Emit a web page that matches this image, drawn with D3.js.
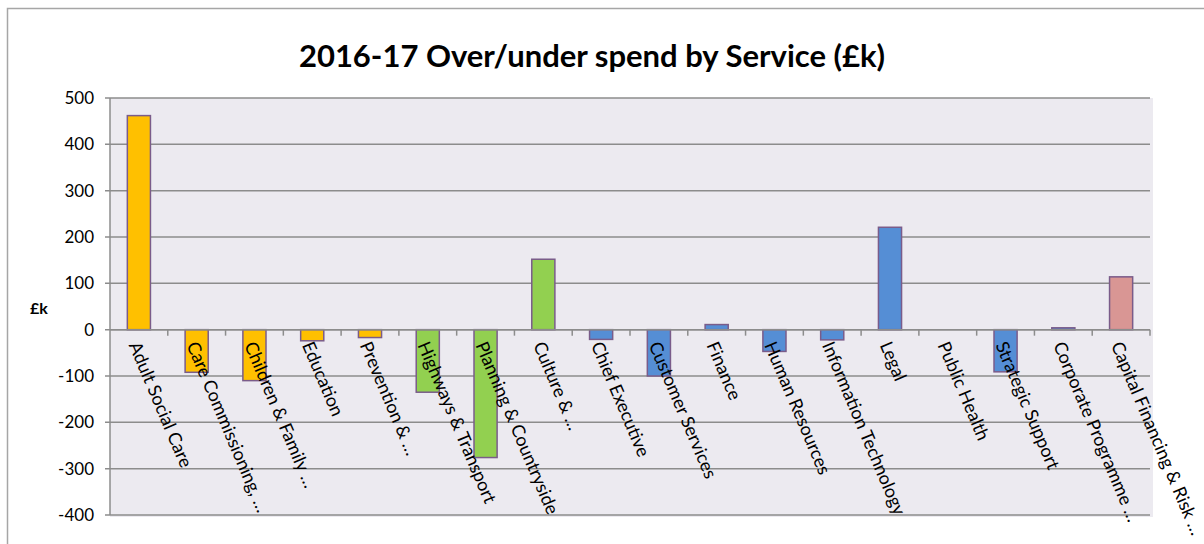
<!DOCTYPE html>
<html><head><meta charset="utf-8">
<script src="https://cdn.jsdelivr.net/npm/d3@7"></script>
<style>body{margin:0;background:#fff}svg{display:block}</style>
</head><body>
<svg id="c" width="1204" height="544"></svg>
<script>
const categories = ["Adult Social Care","Care Commissioning, …","Children & Family …","Education","Prevention & …","Highways & Transport","Planning & Countryside","Culture & …","Chief Executive","Customer Services","Finance","Human Resources","Information Technology","Legal","Public Health","Strategic Support","Corporate Programme …","Capital Financing & Risk …"];
const values = [462,-92,-110,-24,-17,-135,-276,152,-21,-100,11,-47,-22,221,0,-91,4,114];
const groups = ["a","a","a","a","a","b","b","b","c","c","c","c","c","c","c","c","c","d"];
const groupColors = {a:"#FFC000", b:"#92D050", c:"#558ED5", d:"#D99694"};
const yTicks = [500,400,300,200,100,0,-100,-200,-300,-400];
const title = "2016-17 Over/under spend by Service (£k)";
const yLabel = "£k";

const svg = d3.select("#c");
const font = "Lato, 'Liberation Sans', sans-serif";
// outer frame
svg.append("rect").attr("x",7.5).attr("y",8.5).attr("width",1240).attr("height",600)
  .attr("fill","none").attr("stroke","#a6a6a6").attr("stroke-width",1.5);

const L=110, R=1150, T=98, B=515;
const x = d3.scaleBand().domain(categories).range([L,R]).paddingInner(0.6).paddingOuter(0.3);
const xb = d3.scaleBand().domain(categories).range([L,R]);
const y = d3.scaleLinear().domain([-400,500]).range([B,T]);

svg.append("rect").attr("x",L).attr("y",T).attr("width",R-L+3).attr("height",B-T+2).attr("fill","#ECEAF0");

// gridlines
svg.append("g").selectAll("line").data(yTicks).join("line")
  .attr("x1",L-5).attr("x2",R).attr("y1",d=>y(d)).attr("y2",d=>y(d))
  .attr("stroke","#8c8c8c").attr("stroke-width",1.5);

// y axis line
svg.append("line").attr("x1",L).attr("x2",L).attr("y1",T).attr("y2",B).attr("stroke","#8c8c8c").attr("stroke-width",1.5);

// y tick labels
svg.append("g").selectAll("text").data(yTicks).join("text")
  .attr("x",L-16).attr("y",d=>y(d)).attr("dy","0.35em").attr("text-anchor","end")
  .attr("font-family",font).attr("font-size",17).attr("fill","#000").text(d=>d);

svg.append("text").attr("x",30).attr("y",y(100)+31).attr("font-family",font).attr("font-weight","bold")
  .attr("font-size",16).text(yLabel);

// bars
svg.append("g").selectAll("rect").data(categories).join("rect")
  .attr("x",d=>x(d)).attr("width",x.bandwidth())
  .attr("y",(d,i)=>y(Math.max(0,values[i])))
  .attr("height",(d,i)=>Math.abs(y(values[i])-y(0)))
  .attr("fill",(d,i)=>groupColors[groups[i]])
  .attr("stroke","#7a5c8a").attr("stroke-width",1.5);

// zero axis line + ticks
svg.append("line").attr("x1",L).attr("x2",R).attr("y1",y(0)).attr("y2",y(0)).attr("stroke","#8c8c8c").attr("stroke-width",1.5);
svg.append("g").selectAll("line").data(categories).join("line")
  .attr("x1",(d,i)=>L+xb.step()*(i+1)).attr("x2",(d,i)=>L+xb.step()*(i+1))
  .attr("y1",y(0)).attr("y2",y(0)+6).attr("stroke","#8c8c8c").attr("stroke-width",1.5);

// category labels
svg.append("g").selectAll("text").data(categories).join("text")
  .attr("transform",d=>`translate(${xb(d)+xb.bandwidth()/2+2},${y(0)+10}) rotate(67)`)
  .attr("dy","0.75em").attr("font-family",font).attr("font-size",18).attr("fill","#000").text(d=>d);

// title
svg.append("text").attr("x",592).attr("y",67).attr("text-anchor","middle")
  .attr("font-family",font).attr("font-weight","bold").attr("font-size",31).text(title);
</script>
</body></html>
